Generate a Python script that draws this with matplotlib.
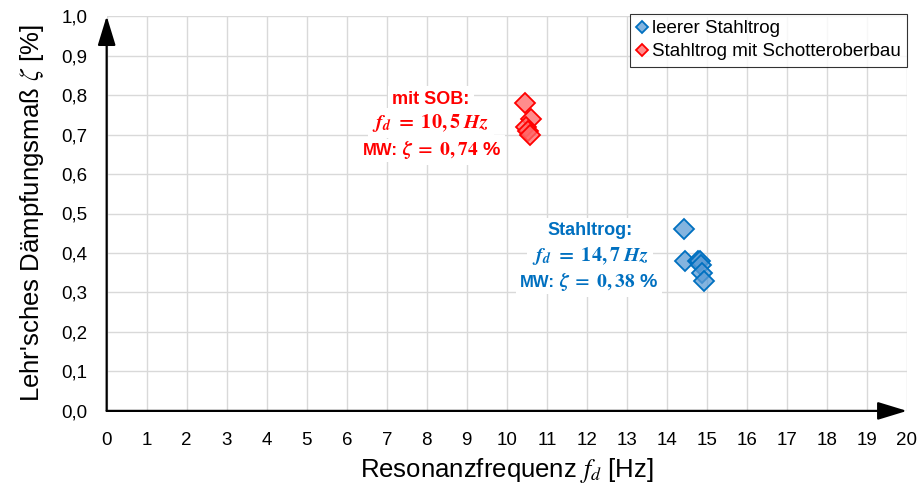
import matplotlib
matplotlib.use("Agg")
import matplotlib.pyplot as plt
from matplotlib.patches import FancyArrowPatch

plt.rcParams['font.family'] = ['Liberation Sans', 'DejaVu Sans']
plt.rcParams['mathtext.fontset'] = 'stix'

# Measured resonance frequencies [Hz] and damping ratios [%]
f_empty = [14.42, 14.46, 14.78, 14.82, 14.85, 14.88, 14.92]
zeta_empty = [0.46, 0.38, 0.38, 0.38, 0.37, 0.35, 0.33]
f_ballast = [10.45, 10.60, 10.47, 10.53, 10.57]
zeta_ballast = [0.78, 0.74, 0.72, 0.71, 0.70]

label_empty = "leerer Stahltrog"
label_ballast = "Stahltrog mit Schotteroberbau"

# Mean values stated in the annotations
f_mean_ballast, zeta_mean_ballast = 10.5, 0.74
f_mean_empty, zeta_mean_empty = 14.7, 0.38

x_ticks = list(range(0, 21))
y_ticks = [i / 10 for i in range(0, 11)]
y_ticklabels = [f"{v:.1f}".replace(".", ",") for v in y_ticks]

BLUE = "#0070C0"
RED = "#FF0000"

fig = plt.figure(figsize=(9.22, 4.88), dpi=100)
ax = fig.add_axes([0.1157, 0.158, 0.868, 0.809])

ax.set_xlim(0, 20)
ax.set_ylim(0, 1.0)
ax.set_xticks(x_ticks)
ax.set_xticklabels([str(t) for t in x_ticks], fontsize=13.5)
ax.set_yticks(y_ticks)
ax.set_yticklabels(y_ticklabels, fontsize=13.5)
ax.tick_params(axis="x", length=0, pad=15)
ax.tick_params(axis="y", length=0, pad=14)
ax.grid(True, color="#d9d9d9", linewidth=1.0)
ax.set_axisbelow(True)
for s in ax.spines.values():
    s.set_visible(False)

# Axis lines with arrow heads
arrow_kw = dict(transform=ax.transData,
                arrowstyle="-|>,head_length=18,head_width=5.5",
                color="black", lw=1.6, clip_on=False, zorder=5,
                shrinkA=0, shrinkB=0)
ax.add_patch(FancyArrowPatch((0, 0), (20, 0), **arrow_kw))
ax.add_patch(FancyArrowPatch((0, 0), (0, 1.0), **arrow_kw))

ax.plot(f_empty, zeta_empty, linestyle="none", marker="D", markersize=10,
        markerfacecolor=(0.357, 0.608, 0.835, 0.75), markeredgecolor=BLUE,
        markeredgewidth=1.3, label=label_empty, zorder=4)
ax.plot(f_ballast, zeta_ballast, linestyle="none", marker="D", markersize=10,
        markerfacecolor=(1.0, 0.40, 0.40, 0.75), markeredgecolor=RED,
        markeredgewidth=1.3, label=label_ballast, zorder=4)

ax.set_xlabel(r"Resonanzfrequenz $f_d$ [Hz]", fontsize=18.5, labelpad=5)
ax.set_ylabel(r"Lehr'sches Dämpfungsmaß $\zeta$ [%]", fontsize=18.5, labelpad=11)

leg = ax.legend(loc="upper right", bbox_to_anchor=(1.0, 1.006), fontsize=13.5,
                frameon=True, fancybox=False, markerscale=0.6,
                handlelength=0.55, handletextpad=0.25, borderpad=0.35,
                labelspacing=0.3, borderaxespad=0.0)
leg.get_frame().set_edgecolor("black")
leg.get_frame().set_linewidth(0.8)


def fmt(v, n):
    return f"{v:.{n}f}".replace(".", ",")


def freq_text(v):
    return (r"$\mathbfit{f}_{\mathbfit{d}}\mathbf{\ =\ " + fmt(v, 1)
            + r"\ }\mathbfit{Hz}$")


def zeta_text(v):
    return r"$\mathbfit{\zeta}\mathbf{\ =\ " + fmt(v, 2) + r"}$ %"


bbox = dict(facecolor="white", edgecolor="none", pad=3)


def annotate_group(x_c, x_split, y_title, y_freq, y_base, title, f_m, z_m, color):
    ax.text(x_c, y_title, title, color=color, fontsize=13, fontweight="bold",
            ha="center", va="center", bbox=bbox, zorder=6)
    ax.text(x_c, y_freq, freq_text(f_m), color=color, fontsize=14.5,
            ha="center", va="center", bbox=bbox, zorder=6)
    ax.annotate("MW:", xy=(x_split, y_base), xytext=(-2, 0),
                textcoords="offset points", color=color, fontsize=12,
                fontweight="bold", ha="right", va="baseline", bbox=bbox,
                zorder=6)
    ax.annotate(zeta_text(z_m), xy=(x_split, y_base), xytext=(1, 0),
                textcoords="offset points", color=color, fontsize=14,
                fontweight="bold", ha="left", va="baseline", bbox=bbox,
                zorder=6)


annotate_group(8.1, 7.35, 0.79, 0.729, 0.648, "mit SOB:",
               f_mean_ballast, zeta_mean_ballast, RED)
annotate_group(12.08, 11.27, 0.456, 0.392, 0.314, "Stahltrog:",
               f_mean_empty, zeta_mean_empty, BLUE)

fig.savefig("out.png", dpi=100)
